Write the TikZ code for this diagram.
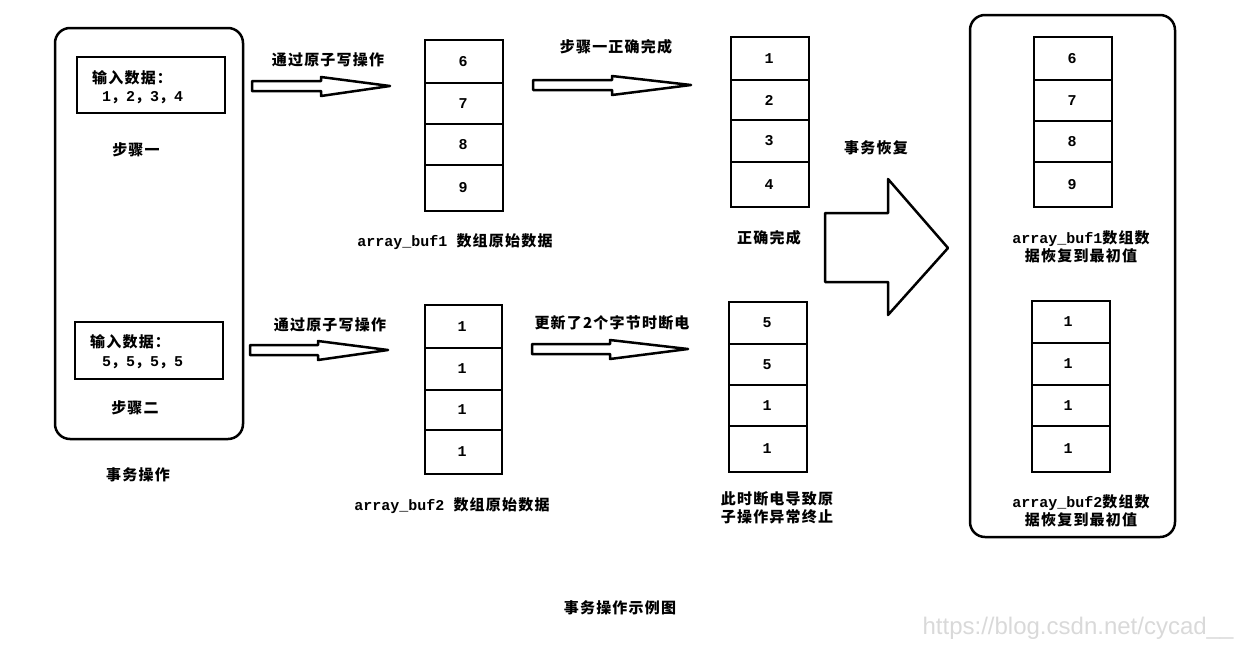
\documentclass[tikz,border=0pt]{standalone}
\usepackage{fontspec}
\setmainfont{Liberation Mono}
\newfontfamily\cjk{Noto Sans CJK SC}[LetterSpace=8]
\newfontfamily\wmfont{Liberation Sans}
\begin{document}
\begin{tikzpicture}[x=1pt,y=-1pt,every node/.style={font=\fontsize{15}{18}\selectfont\bfseries,inner sep=0pt},
	frame/.style={line width=2.5pt,rounded corners=15pt},
	cell/.style={line width=2.5pt},
	hollow/.style={line width=2.5pt,line join=round}]
	\useasboundingbox(0,0)rectangle(1259,651);
	%left frame: two steps
	\draw[frame](55,28)rectangle(243,439);
	\draw[cell](77,57)rectangle(225,113);
	\draw[cell](75,322)rectangle(223,379);
	\node[anchor=west](in1)at(92,78){\cjk 输入数据：};
	\node[anchor=west](v1)at(102,98){1{\cjk ，}2{\cjk ，}3{\cjk ，}4};
	\node[anchor=west](in2)at(90,342){\cjk 输入数据：};
	\node[anchor=west](v2)at(102,363){5{\cjk ，}5{\cjk ，}5{\cjk ，}5};
	\node(s1)at(136,150){\cjk 步骤一};
	\node(s2)at(135,408){\cjk 步骤二};
	\node(tx)at(138,475){\cjk 事务操作};
	%hollow arrows: from/to/head/y
	\foreach\a/\b/\m/\y in{252/390/321/86,533/691/612/85,250/388/318/350,532/688/610/349}{
		\draw[hollow](\a,\y-5)--(\m,\y-5)--(\m,\y-9)--(\b,\y)--(\m,\y+10)--(\m,\y+5)--(\a,\y+5)--cycle;}
	\node(w1)at(328,60){\cjk 通过原子写操作};
	\node(w2)at(330,325){\cjk 通过原子写操作};
	\node(ok)at(616,47){\cjk 步骤一正确完成};
	\node(pf)at(612,323){\cjk 更新了2个字节时断电};
	%arrays
	\foreach\t/\b/\v[count=\i]in{40/83/6,83/124/7,124/165/8,165/211/9}{
		\draw[cell](425,\t)rectangle(503,\b);\node(A\i)at(463,{(\t+\b)/2}){\v};}
	\foreach\t/\b/\v[count=\i]in{305/348/1,348/390/1,390/430/1,430/474/1}{
		\draw[cell](425,\t)rectangle(502,\b);\node(B\i)at(462,{(\t+\b)/2}){\v};}
	\foreach\t/\b/\v[count=\i]in{37/80/1,80/120/2,120/162/3,162/207/4}{
		\draw[cell](731,\t)rectangle(809,\b);\node(C\i)at(769,{(\t+\b)/2}){\v};}
	\foreach\t/\b/\v[count=\i]in{302/344/5,344/385/5,385/426/1,426/472/1}{
		\draw[cell](729,\t)rectangle(807,\b);\node(D\i)at(767,{(\t+\b)/2}){\v};}
	\node(la)at(455,242){array\_buf1 {\cjk 数组原始数据}};
	\node(lb)at(452,506){array\_buf2 {\cjk 数组原始数据}};
	\node(lc)at(769,238){\cjk 正确完成};
	\node[align=center](ld)at(777,508){\cjk 此时断电导致原\\\cjk 子操作异常终止};
	%recovery
	\node(rc)at(876,148){\cjk 事务恢复};
	\draw[hollow](825,213)--(888,213)--(888,179)--(948,248)--(888,315)--(888,282)--(825,282)--cycle;
	\draw[frame](970,15)rectangle(1175,537);
	\foreach\t/\b/\v[count=\i]in{37/80/6,80/121/7,121/162/8,162/207/9}{
		\draw[cell](1034,\t)rectangle(1112,\b);\node(E\i)at(1072,{(\t+\b)/2}){\v};}
	\foreach\t/\b/\v[count=\i]in{301/343/1,343/385/1,385/426/1,426/472/1}{
		\draw[cell](1032,\t)rectangle(1110,\b);\node(F\i)at(1068,{(\t+\b)/2}){\v};}
	\node[align=center](le)at(1081,247){array\_buf1{\cjk 数组数}\\\cjk 据恢复到最初值};
	\node[align=center](lf)at(1081,511){array\_buf2{\cjk 数组数}\\\cjk 据恢复到最初值};
	\node(cap)at(620,608){\cjk 事务操作示例图};
	\node[font=\fontsize{24}{28}\selectfont\wmfont,text=gray!30](wm)at(1078,628){https://blog.csdn.net/cycad\_\_};
\end{tikzpicture}
\end{document}
